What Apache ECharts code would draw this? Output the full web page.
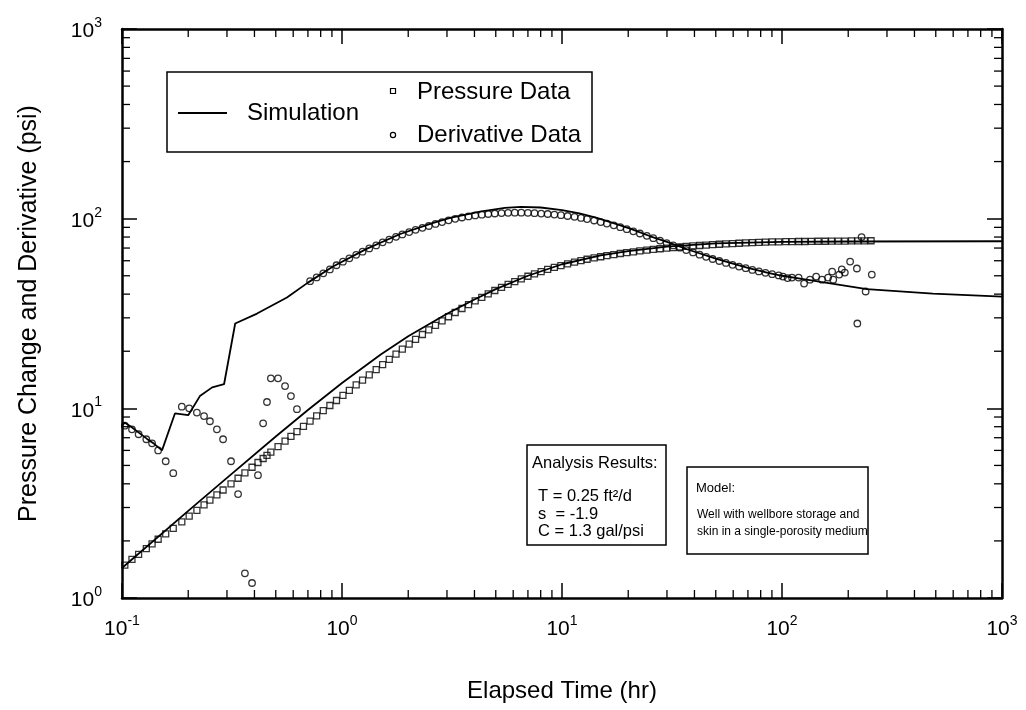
<!DOCTYPE html>
<html><head><meta charset="utf-8">
<script src="https://cdn.jsdelivr.net/npm/echarts@6/dist/echarts.min.js"></script>
<style>html,body{margin:0;padding:0;background:#fff}#c{width:1026px;height:710px}</style>
</head><body><div id="c"></div>
<script>
const FONT = '"Liberation Sans", Arial, Helvetica, sans-serif';

// ---- tick labels (10^n) ----
const xTickValues = [0.1, 1, 10, 100, 1000];
const xTickExp = ['-1', '0', '1', '2', '3'];
const yTickValues = [1, 10, 100, 1000];
const yTickExp = ['0', '1', '2', '3'];

// ---- Pressure data (squares) ----
const pressureTime = [0.103,0.111,0.119,0.129,0.137,0.146,0.158,0.171,0.187,0.202,0.219,0.236,0.251,0.270,0.288,0.313,0.337,0.362,0.390,0.415,0.438,0.456,0.475,0.512,0.551,0.586,0.624,0.668,0.716,0.767,0.822,0.881,0.944,1.01,1.08,1.16,1.24,1.33,1.43,1.53,1.64,1.76,1.88,2.02,2.16,2.32,2.48,2.66,2.85,3.05,3.27,3.51,3.76,4.03,4.32,4.62,4.95,5.31,5.69,6.10,6.53,7.00,7.50,8.04,8.61,9.23,9.89,10.6,11.4,12.2,13.0,14.0,15.0,16.0,17.2,18.4,19.7,21.1,22.6,24.3,26.0,27.9,29.9,32.0,34.3,36.7,39.4,42.2,45.2,48.4,51.9,55.6,59.6,63.8,68.4,73.3,78.5,84.1,90.2,96.6,104,111,119,127,136,146,157,168,180,193,207,221,237,254];
const pressureValue = [1.49,1.60,1.70,1.82,1.93,2.04,2.18,2.33,2.52,2.70,
2.90,3.10,3.28,3.50,3.71,4.00,4.28,4.57,4.89,5.18,
5.44,5.65,5.87,6.28,6.72,7.12,7.54,8.03,8.56,9.12,
9.72,10.35,11.0,11.7,12.45,13.3,14.1,15.0,16.0,17.0,
18.1,19.3,20.5,21.8,23.1,24.5,25.9,27.4,28.9,30.4,
32.0,33.6,35.2,36.9,38.5,40.1,41.8,43.4,45.0,46.6,
48.2,49.7,51.2,52.6,54.0,55.3,56.6,57.8,59.0,60.1,
61.1,62.1,63.0,63.9,64.7,65.5,66.2,66.9,67.6,68.2,
68.8,69.4,69.9,70.4,70.9,71.4,71.8,72.2,72.6,73.0,
73.3,73.6,73.9,74.2,74.5,74.7,75.0,75.2,75.4,75.5,
75.6,75.7,75.8,75.8,75.9,76.0,76.0,76.1,76.2,76.2,
76.3,76.4,76.4,76.5];

// ---- Derivative data (circles) ----
const derivTime = [0.103,0.111,0.119,0.129,0.137,0.146,0.158,0.171,0.187,0.202,0.219,0.236,0.251,0.270,0.288,0.313,0.337,0.362,0.390,0.415,0.438,0.456,0.475,0.512,0.551,0.586,0.624,
0.716,0.767,0.822,0.881,0.944,1.01,1.08,1.16,1.24,1.33,1.43,1.53,1.64,1.76,1.88,2.02,2.16,2.32,2.48,2.66,2.85,3.05,3.27,3.51,3.76,4.03,4.32,4.62,4.95,5.31,5.69,6.10,6.53,7.00,7.50,8.04,8.61,9.23,9.89,10.6,11.4,12.2,13.0,14.0,15.0,16.0,17.2,18.4,19.7,21.1,22.6,24.3,26.0,27.9,29.9,32.0,34.3,36.7,39.4,42.2,45.2,48.4,51.9,55.6,59.6,63.8,68.4,73.3,78.5,84.1,90.2,96.6,
101,106,111,119,126,134,143,152,162,169,171,182,187,193,204,219,220,230,240,256];
const derivValue = [8.1,7.75,7.3,6.87,6.54,6.0,5.26,4.55,10.2,10.0,9.5,9.1,8.55,7.75,6.87,5.26,3.53,1.35,1.2,4.44,8.34,10.8,14.4,14.4,13.1,11.6,9.9,
46.8,49.0,51.5,54.0,56.8,59.3,61.8,64.5,67.0,69.7,
72.3,75.0,77.6,80.2,82.6,85.0,87.3,89.5,91.5,93.8,
96.0,98.0,99.8,101.4,102.8,104.0,105.0,105.8,106.5,107.0,
107.4,107.6,107.6,107.3,106.9,106.4,105.8,105.1,104.3,103.3,
102.2,100.9,99.5,97.8,96.0,94.2,92.2,90.2,88.0,85.8,
83.5,81.2,78.9,76.6,74.4,72.3,70.3,68.3,66.4,64.6,
62.9,61.3,59.8,58.4,57.1,55.9,54.8,53.7,52.7,51.8,
51.0,50.2,
49.5,48.6,48.9,48.9,45.5,47.7,49.5,47.7,48.9,52.6,47.7,50.7,54.0,52.0,59.4,54.6,28.0,80.0,41.3,50.7];

// ---- Simulation curves ----
const simPTime = [0.1,0.2,0.3,0.5,0.7,1.0,1.5,2.0,3.0,4.0,5.0,7.0,10,15,20,30,50,100,200,1000];
const simPValue = [1.44,2.88,4.3,7.1,9.8,13.6,19.2,24.0,31.5,37.5,42.5,50,57.5,64,67.5,71.3,74,75.5,75.8,76.0];
const simDTime = [0.1,0.103,0.11,0.12,0.13,0.14,0.152,0.174,0.2,0.226,0.257,0.291,0.327,0.411,0.562,0.70,0.91,1.3,1.84,2.6,3.1,4.24,5.5,6.5,8,10,12,14.4,17,20.4,25,30,37,42.4,50,59.8,70,85.5,100,121,150,243,485,1000];
const simDValue = [8.1,8.4,8.0,7.4,6.9,6.5,6.0,9.4,9.2,11.6,12.9,13.4,28,31.6,38.4,46,56,69.5,83,95,101,109,114,115.5,114.5,111,106.5,101,95,88.6,81,75.5,69,65.5,61.5,58,55,52,50,48.3,46.4,42.5,40.3,38.8];

// ---- minor tick multipliers ----
const minorMult = [2,3,4,5,6,7,8,9];

const zip = (a, b) => a.map((v, i) => [v, b[i]]);
const minorData = [];
for (let e = -1; e < 3; e++) for (const m of minorMult) minorData.push([m * Math.pow(10, e), 1, 0]);
for (let e = 0; e < 3; e++) for (const m of minorMult) minorData.push([0.1, m * Math.pow(10, e), 1]);

function expLabel(vals, exps) {
  return function (v) {
    let best = 0, bd = Infinity;
    vals.forEach((t, i) => { const d = Math.abs(Math.log10(t) - Math.log10(v)); if (d < bd) { bd = d; best = i; } });
    return '{b|10}{s|' + exps[best] + '}';
  };
}
const richLab = {
  b: { fontFamily: FONT, fontSize: 21, color: '#000', lineHeight: 26, verticalAlign: 'bottom' },
  s: { fontFamily: FONT, fontSize: 14, color: '#000', lineHeight: 16, verticalAlign: 'top' }
};
const axisLineS = { show: true, lineStyle: { color: '#000', width: 2.5 } };
const axisTickS = { show: true, inside: true, length: 15, lineStyle: { color: '#000', width: 1.5 } };

function txt(x, y, s, size) {
  return { type: 'text', x: x, y: y, z: 11,
    style: { text: s, font: size + 'px ' + FONT, fill: '#000', textAlign: 'left', textVerticalAlign: 'middle', verticalAlign: 'middle' } };
}

const chart = echarts.init(document.getElementById('c'), null, { renderer: 'canvas' });
chart.setOption({
  backgroundColor: '#fff',
  animation: false,
  grid: { left: 122, right: 24, top: 29, bottom: 112, containLabel: false },
  xAxis: [
    { type: 'log', logBase: 10, min: 0.1, max: 1000, splitNumber: 4, position: 'bottom',
      name: 'Elapsed Time (hr)', nameLocation: 'middle', nameGap: 81,
      nameTextStyle: { fontFamily: FONT, fontSize: 24, color: '#000' },
      axisLine: axisLineS, axisTick: axisTickS,
      axisLabel: { margin: 16, formatter: expLabel(xTickValues, xTickExp), rich: richLab },
      splitLine: { show: false } },
    { type: 'log', logBase: 10, min: 0.1, max: 1000, splitNumber: 4, position: 'top',
      axisLine: axisLineS, axisTick: axisTickS, axisLabel: { show: false }, splitLine: { show: false } }
  ],
  yAxis: [
    { type: 'log', logBase: 10, min: 1, max: 1000, splitNumber: 3, position: 'left',
      name: 'Pressure Change and Derivative (psi)', nameLocation: 'middle', nameGap: 80,
      nameTextStyle: { fontFamily: FONT, fontSize: 25, color: '#000' },
      axisLine: axisLineS, axisTick: axisTickS,
      axisLabel: { margin: 20, formatter: expLabel(yTickValues, yTickExp), rich: richLab },
      splitLine: { show: false } },
    { type: 'log', logBase: 10, min: 1, max: 1000, splitNumber: 3, position: 'right',
      axisLine: axisLineS, axisTick: axisTickS, axisLabel: { show: false }, splitLine: { show: false } }
  ],
  series: [
    { type: 'custom', coordinateSystem: 'cartesian2d', xAxisIndex: 0, yAxisIndex: 0,
      dimensions: ['x', 'y', 'k'], encode: { x: 0, y: 1 }, silent: true, clip: false,
      data: minorData,
      renderItem: function (params, api) {
        const cs = params.coordSys;
        const st = { stroke: '#000', lineWidth: 1.3 };
        if (api.value(2) === 0) {
          const px = api.coord([api.value(0), 1])[0];
          const yb = cs.y + cs.height, yt = cs.y;
          return { type: 'group', children: [
            { type: 'line', shape: { x1: px, y1: yb, x2: px, y2: yb - 8 }, style: st },
            { type: 'line', shape: { x1: px, y1: yt, x2: px, y2: yt + 8 }, style: st } ] };
        }
        const py = api.coord([0.1, api.value(1)])[1];
        const xl = cs.x, xr = cs.x + cs.width;
        return { type: 'group', children: [
          { type: 'line', shape: { x1: xl, y1: py, x2: xl + 8, y2: py }, style: st },
          { type: 'line', shape: { x1: xr, y1: py, x2: xr - 8, y2: py }, style: st } ] };
      } },
    { name: 'Simulation', type: 'line', data: zip(simPTime, simPValue), showSymbol: false,
      lineStyle: { color: '#000', width: 1.8 }, z: 3 },
    { name: 'Simulation', type: 'line', data: zip(simDTime, simDValue), showSymbol: false,
      lineStyle: { color: '#000', width: 1.8 }, z: 3 },
    { name: 'Pressure Data', type: 'scatter', data: zip(pressureTime, pressureValue),
      symbol: 'rect', symbolSize: 6,
      itemStyle: { color: 'rgba(0,0,0,0)', borderColor: '#000', borderWidth: 1.3 }, z: 4 },
    { name: 'Derivative Data', type: 'scatter', data: zip(derivTime, derivValue),
      symbol: 'circle', symbolSize: 6.5,
      itemStyle: { color: 'rgba(0,0,0,0)', borderColor: '#000', borderWidth: 1.3 }, z: 4 }
  ],
  graphic: [
    // legend
    { type: 'rect', shape: { x: 167, y: 72, width: 425, height: 80 }, style: { fill: '#fff', stroke: '#000', lineWidth: 1.5 }, z: 10 },
    { type: 'line', shape: { x1: 178, y1: 113, x2: 227, y2: 113 }, style: { stroke: '#000', lineWidth: 2 }, z: 11 },
    txt(247, 113, 'Simulation', 24),
    { type: 'rect', shape: { x: 390.5, y: 88.5, width: 5, height: 5 }, style: { fill: 'none', stroke: '#000', lineWidth: 1.2 }, z: 11 },
    txt(417, 92, 'Pressure Data', 24),
    { type: 'circle', shape: { cx: 393, cy: 135, r: 2.6 }, style: { fill: 'none', stroke: '#000', lineWidth: 1.2 }, z: 11 },
    txt(417, 135, 'Derivative Data', 24),
    // analysis results box
    { type: 'rect', shape: { x: 527, y: 445, width: 139, height: 100 }, style: { fill: '#fff', stroke: '#000', lineWidth: 1.5 }, z: 10 },
    txt(532, 463, 'Analysis Results:', 16.5),
    txt(538, 496, 'T = 0.25 ft\u00b2/d', 16.5),
    txt(538, 514, 's  = -1.9', 16.5),
    txt(538, 531, 'C = 1.3 gal/psi', 16.5),
    // model box
    { type: 'rect', shape: { x: 687, y: 467, width: 181, height: 87 }, style: { fill: '#fff', stroke: '#000', lineWidth: 1.5 }, z: 10 },
    txt(696, 488, 'Model:', 13),
    txt(697, 515, 'Well with wellbore storage and', 12),
    txt(697, 532, 'skin in a single-porosity medium', 12)
  ]
});
</script>
</body></html>
